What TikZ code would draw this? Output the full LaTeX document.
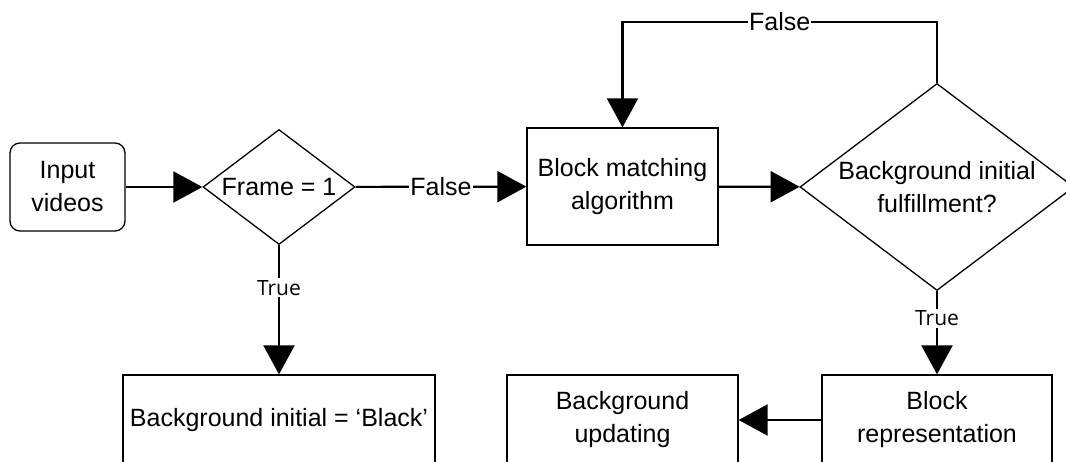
\documentclass[tikz,border=0pt]{standalone}
\usepackage{fontspec}
\setmainfont{Liberation Sans}
\newfontfamily\truefont{Open Sans}
\usetikzlibrary{arrows.meta,shapes.geometric}
\begin{document}
\begin{tikzpicture}[x=1pt,y=-1pt,
  txt/.style={font=\fontsize{25}{33}\selectfont, align=center},
  box/.style={draw, line width=1.3pt, fill=white, inner sep=0pt, txt},
  dia/.style={draw, diamond, line width=1.3pt, fill=white, inner sep=0pt},
  conn/.style={line width=2.2pt, -{Triangle[length=29pt,width=31pt]}},
  lab/.style={fill=white, inner sep=1pt, font=\fontsize{25}{30}\selectfont},
  tlab/.style={fill=white, inner sep=2pt, font=\truefont\fontsize{21}{25}\selectfont},
]
\clip (0,0) rectangle (1066,462);
\fill[white] (0,0) rectangle (1066,462);
\coordinate (top) at (0,22);

\node[box, rounded corners=10pt, minimum width=115pt, minimum height=88pt] (in) at (67.5,187) {Input\\videos};
\node[dia, minimum width=152pt, minimum height=115pt,
      label={[txt]center:Frame = 1}] (f1) at (279,187) {};
\node[box, minimum width=191pt, minimum height=117pt] (bm) at (622.5,186.5) {Block matching\\algorithm};
\node[dia, minimum width=274pt, minimum height=207pt,
      label={[txt]center:Background initial\\fulfillment?}] (d2) at (937,187) {};
\node[box, minimum width=312pt, minimum height=90pt] (bi) at (279,420) {Background initial = ‘Black’};
\node[box, minimum width=231pt, minimum height=90pt] (bu) at (622.5,420) {Background\\updating};
\node[box, minimum width=230pt, minimum height=90pt] (br) at (937,420) {Block\\representation};

\draw[conn] (in) -- (f1);
\draw[conn] (f1) -- node[lab]{False} (bm);
\draw[conn] (bm) -- (d2);
\draw[conn] (d2.north) -- (d2.north |- top) -- node[lab]{False} (bm.north |- top) -- (bm.north);
\draw[conn] (f1.south) -- node[tlab, pos=0.33]{True} (bi.north);
\draw[conn] (d2.south) -- node[tlab, pos=0.33]{True} (br.north);
\draw[conn] (br) -- (bu);
\end{tikzpicture}
\end{document}
